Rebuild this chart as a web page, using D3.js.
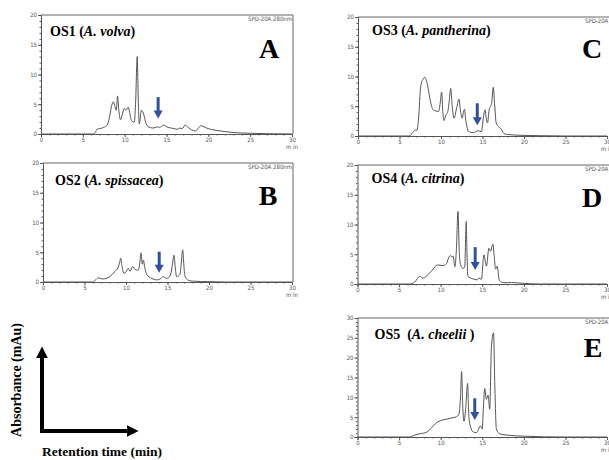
<!DOCTYPE html>
<html>
<head>
<meta charset="utf-8">
<script src="https://cdn.jsdelivr.net/npm/d3@7"></script>
<style>
  html, body { margin: 0; padding: 0; background: #fff; }
  svg { display: block; }
  .tick-label { font-family: "Liberation Sans Narrow", "DejaVu Sans Condensed", sans-serif; font-size: 6px; fill: #555; }
  .serif { font-family: "Liberation Serif", "Times New Roman", serif; font-weight: bold; fill: #000; }
</style>
</head>
<body>
<svg id="chart" width="609" height="460"></svg>
<script>
// HPLC chromatograms (280 nm), retention time in min vs absorbance in mAu
const os1 = [[0,0],[6.3,0],[6.5,0.3],[6.7,0.8],[7.0,0.9],[7.5,1.1],[7.9,1.5],[8.2,2.9],[8.45,4.8],[8.65,5.4],[8.85,4.6],[9.0,4.0],[9.15,6.4],[9.3,4.0],[9.5,2.4],[9.7,3.2],[9.95,4.3],[10.15,4.0],[10.43,4.5],[10.6,3.6],[10.83,2.2],[11.15,2.0],[11.3,5.0],[11.5,13.0],[11.62,6],[11.75,1.7],[12.0,4.0],[12.3,3.2],[12.5,2.0],[12.8,1.25],[13.4,1.0],[13.9,1.2],[14.2,1.1],[14.6,1.5],[15.2,1.1],[15.6,1.0],[16.3,0.8],[16.6,1.0],[16.9,0.9],[17.2,1.5],[17.6,1.1],[18.0,0.7],[18.5,0.5],[18.8,1.0],[19.1,1.4],[19.5,1.2],[19.8,1.0],[21,0.6],[22,0.4],[23,0.25],[25,0.12],[27,0.05],[30,0]];
const os2 = [[0,0],[6.0,0],[6.3,0.3],[6.66,0.7],[7.2,0.5],[7.6,0.6],[8.07,0.9],[8.6,1.7],[9.07,2.5],[9.25,3.4],[9.36,4.0],[9.5,2.8],[9.76,1.45],[10.0,1.7],[10.28,2.3],[10.48,1.8],[10.8,2.6],[11.08,2.1],[11.48,2.0],[11.65,3.0],[11.8,4.9],[11.96,3.0],[12.09,3.7],[12.25,2.5],[12.5,1.3],[13.1,0.6],[13.7,0.35],[14.1,0.5],[14.5,0.9],[14.9,0.6],[15.3,1.0],[15.55,2.5],[15.78,4.5],[15.95,2.2],[16.1,0.9],[16.5,1.3],[16.65,3],[16.83,5.4],[16.97,2.8],[17.1,1.0],[17.5,0.3],[18,0.15],[20,0.05],[22,0],[30,0]];
const os3 = [[0,0],[6.2,0],[6.6,0.6],[6.9,1.0],[7.1,1.0],[7.3,3.0],[7.55,8.3],[7.85,9.6],[8.05,9.85],[8.2,9.5],[8.45,8.0],[8.7,6.0],[9.05,4.4],[9.4,4.2],[9.7,4.1],[9.9,5.5],[10.08,7.4],[10.2,4.5],[10.36,2.6],[10.6,3.6],[10.8,4.0],[11.0,6.0],[11.17,8.0],[11.35,5.0],[11.57,3.0],[11.9,4.8],[12.17,6.2],[12.35,4.2],[12.56,3.0],[12.7,4.0],[12.84,4.5],[12.95,3.0],[13.07,2.0],[13.27,0.85],[13.87,0.55],[14.2,0.7],[14.47,0.9],[14.87,0.7],[15.1,3.0],[15.3,4.4],[15.45,3.0],[15.6,2.2],[15.8,4.4],[16.1,5.5],[16.3,8.2],[16.45,5.5],[16.65,2.2],[16.97,1.5],[17.17,1.3],[17.6,0.4],[18,0.25],[20,0.1],[22,0.05],[25,0],[30,0]];
const os4 = [[0,0],[6.3,0],[6.85,0.3],[7.2,0.9],[7.43,1.3],[7.9,1.0],[8.5,1.6],[9.1,2.5],[9.57,3.2],[10.3,3.1],[10.7,3.4],[10.95,4.4],[11.2,4.8],[11.35,4.5],[11.5,4.7],[11.7,2.9],[11.9,6],[12.08,12.2],[12.25,5],[12.4,3.2],[12.72,2.6],[12.9,3.0],[13.07,10.5],[13.17,5],[13.27,1.3],[13.8,0.9],[14.4,0.7],[14.6,1.0],[14.9,0.8],[15.2,4.9],[15.5,3.0],[15.8,6.0],[16.0,5.5],[16.27,6.7],[16.45,4.5],[16.6,2.5],[16.8,3.0],[17.05,0.6],[17.6,0.2],[18.5,0.25],[20,0.1],[22,0],[30,0]];
const os5 = [[0,0],[6.2,0],[6.9,0.5],[7.48,0.8],[8.3,1.2],[8.9,2.3],[9.5,3.6],[10.1,4.2],[10.7,4.5],[11.3,4.8],[11.9,5.1],[12.2,5.8],[12.38,10],[12.52,16.5],[12.65,8],[12.8,4.0],[13.0,7.0],[13.24,13.5],[13.35,7],[13.45,4.0],[13.9,1.3],[14.3,1.1],[14.8,2.8],[15.0,2.0],[15.15,8],[15.3,12.2],[15.5,9.5],[15.7,10.5],[15.9,7],[16.1,22.5],[16.36,26.3],[16.5,14],[16.7,2.0],[17.1,0.8],[17.9,0.5],[20,0.2],[25,0],[30,0]];

const panelLetters = ["A", "B", "C", "D", "E"];
const sampleCodes = ["OS1", "OS2", "OS3", "OS4", "OS5"];
const speciesNames = ["A. volva", "A. spissacea", "A. pantherina", "A. citrina", "A. cheelii "];
const yMaxima = [20, 20, 20, 20, 30];
const xTickValues = [0, 5, 10, 15, 20, 25, 30];
// marked retention time and arrow extent (mAu) per panel
const arrowTimes = [14.0, 14.0, 14.37, 14.15, 14.1];
const arrowTops = [6.2, 5.1, 5.5, 6.2, 9.75];
const arrowTips = [2.6, 1.55, 1.8, 2.35, 4.3];
const detectorLabel = "SPD-20A 280nm";
const xAxisTitle = "Retention time (min)";
const yAxisTitle = "Absorbance (mAu)";

const series = [os1, os2, os3, os4, os5];

// panel boxes in page pixels
const boxes = [
  { l: 41,    r: 292, t: 15,  b: 134, frameR: 293 },
  { l: 43,    r: 292, t: 163, b: 282, frameR: 293 },
  { l: 358,   r: 607, t: 17,  b: 136, frameR: 612 },
  { l: 357.5, r: 607, t: 165, b: 284, frameR: 612 },
  { l: 357.5, r: 607, t: 318, b: 437, frameR: 612 }
];
const titleOffsets = [[9, 21], [12, 22], [14, 18], [14, 18], [17, 21]];
const letterOffsets = [[23, 43], [24, 42], [15, 41], [15, 42], [14, 39]];

const svg = d3.select("#chart");
svg.append("rect").attr("width", 609).attr("height", 460).attr("fill", "#fff");

const defs = svg.append("defs");
defs.append("marker").attr("id", "blackHead")
  .attr("viewBox", "0 0 10 10").attr("refX", 2).attr("refY", 5)
  .attr("markerWidth", 3).attr("markerHeight", 3).attr("markerUnits", "strokeWidth")
  .attr("orient", "auto")
  .append("path").attr("d", "M0,0 L10,5 L0,10 Z").attr("fill", "#000");

series.forEach((data, i) => {
  const bx = boxes[i];
  const x = d3.scaleLinear().domain([0, 30]).range([bx.l, bx.r]);
  const y = d3.scaleLinear().domain([0, yMaxima[i]]).range([bx.b, bx.t]);
  const g = svg.append("g");

  // frame: top and right borders
  g.append("path")
    .attr("d", `M${bx.l},${bx.t}H${bx.frameR}V${bx.b}`)
    .attr("fill", "none").attr("stroke", "#666").attr("stroke-width", 1);

  // y axis with major ticks every 5, minor every 1
  const yAxis = d3.axisLeft(y).tickValues(d3.range(0, yMaxima[i] + 1, 5)).tickSize(3).tickPadding(1);
  const ya = g.append("g").attr("transform", `translate(${bx.l},0)`).call(yAxis);
  ya.selectAll(".tick").filter(d => d === yMaxima[i]).select("line").remove();
  g.append("g").attr("transform", `translate(${bx.l},0)`)
    .call(d3.axisLeft(y).tickValues(d3.range(0, yMaxima[i] + 1, 1)).tickSize(1.5).tickFormat(""))
    .call(s => s.select(".domain").remove());

  // x axis with major ticks every 5, minor every 1
  const xAxis = d3.axisBottom(x).tickValues(xTickValues).tickSize(3).tickPadding(1);
  g.append("g").attr("transform", `translate(0,${bx.b})`).call(xAxis);
  g.append("g").attr("transform", `translate(0,${bx.b})`)
    .call(d3.axisBottom(x).tickValues(d3.range(0, 31, 1)).tickSize(1.5).tickFormat(""))
    .call(s => s.select(".domain").remove());

  g.selectAll(".domain").attr("stroke", "#555").attr("stroke-width", 1);
  g.selectAll(".tick line").attr("stroke", "#555");
  g.selectAll(".tick text").attr("class", "tick-label").attr("font-size", null).attr("font-family", null);

  // unit under the last x tick
  g.append("text").attr("class", "tick-label")
    .attr("x", x(30)).attr("y", bx.b + 15).attr("text-anchor", "middle")
    .attr("font-size", "4.5px").text("m in");

  // detector label, top right
  g.append("text").attr("class", "tick-label")
    .attr("x", i < 2 ? bx.r : bx.r + 22).attr("y", bx.t + 5.5)
    .attr("text-anchor", "end").attr("font-size", "5.5px")
    .text(detectorLabel);

  // chromatogram trace
  const line = d3.line().x(d => x(d[0])).y(d => y(d[1])).curve(d3.curveMonotoneX);
  g.append("path").datum(data).attr("d", line)
    .attr("fill", "none").attr("stroke", "#555").attr("stroke-width", 1)
    .attr("stroke-linejoin", "round");

  // blue arrow marking the compound of interest
  const ax = x(arrowTimes[i]);
  const yTop = y(arrowTops[i]);
  const yTip = y(arrowTips[i]);
  g.append("line").attr("x1", ax).attr("x2", ax).attr("y1", yTop).attr("y2", yTip - 6)
    .attr("stroke", "#2f4f9f").attr("stroke-width", 3);
  g.append("path")
    .attr("d", `M${ax - 4.5},${yTip - 8}L${ax + 4.5},${yTip - 8}L${ax},${yTip}Z`)
    .attr("fill", "#2f4f9f");

  // sample title
  const title = g.append("text").attr("class", "serif")
    .attr("x", bx.l + titleOffsets[i][0]).attr("y", bx.t + titleOffsets[i][1])
    .attr("font-size", "14px").attr("xml:space", "preserve").style("white-space", "pre");
  title.append("tspan").text(sampleCodes[i] + (i === 4 ? "  (" : " ("));
  title.append("tspan").attr("font-style", "italic").text(speciesNames[i]);
  title.append("tspan").text(")");

  // panel letter
  g.append("text").attr("class", "serif")
    .attr("x", bx.r - letterOffsets[i][0]).attr("y", bx.t + letterOffsets[i][1])
    .attr("text-anchor", "middle").attr("font-size", "28px")
    .text(panelLetters[i]);
});

// generic axes legend, bottom left
const lg = svg.append("g");
lg.append("line").attr("x1", 42).attr("y1", 432).attr("x2", 42).attr("y2", 356)
  .attr("stroke", "#000").attr("stroke-width", 4).attr("marker-end", "url(#blackHead)");
lg.append("line").attr("x1", 40).attr("y1", 431).attr("x2", 129).attr("y2", 431)
  .attr("stroke", "#000").attr("stroke-width", 4).attr("marker-end", "url(#blackHead)");
lg.append("text").attr("class", "serif")
  .attr("transform", "translate(21,380) rotate(-90)")
  .attr("text-anchor", "middle").attr("font-size", "14px")
  .text(yAxisTitle);
lg.append("text").attr("class", "serif")
  .attr("x", 42).attr("y", 456).attr("font-size", "13.5px")
  .text(xAxisTitle);
</script>
</body>
</html>
